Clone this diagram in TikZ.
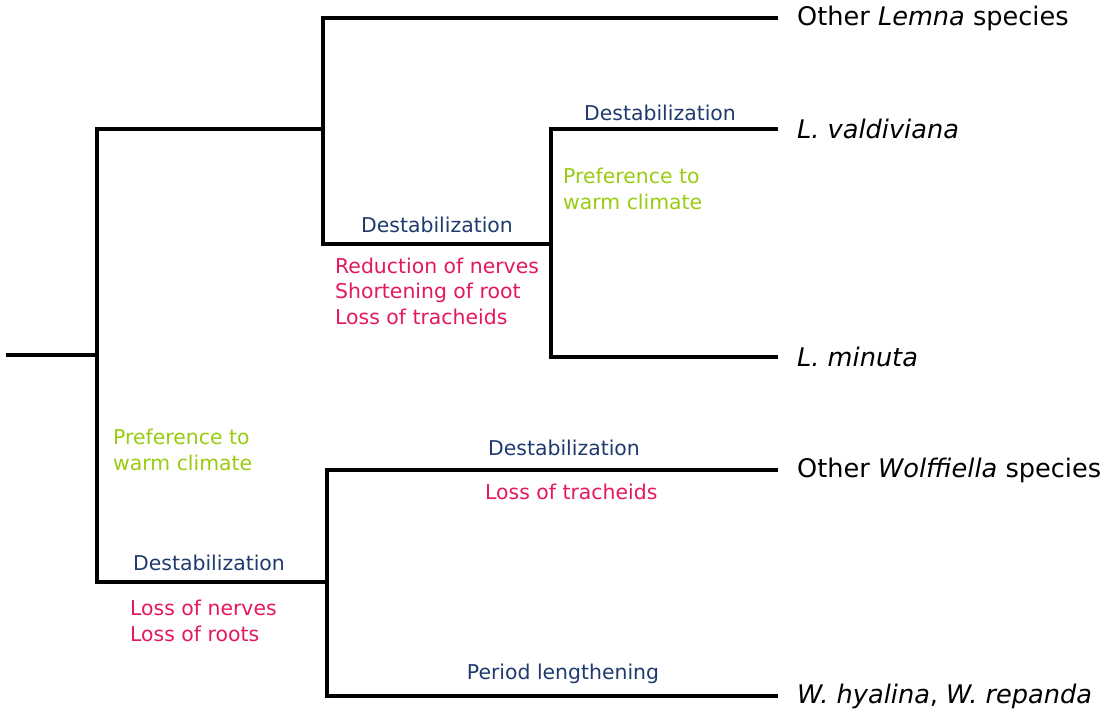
\documentclass[tikz,border=0pt]{standalone}
\usepackage{fontspec}
\setmainfont{DejaVu Sans}
\definecolor{traitblue}{HTML}{1F3A6E}
\definecolor{traitpink}{HTML}{E5175F}
\definecolor{traitgreen}{HTML}{99CC11}
\begin{document}
\begin{tikzpicture}
            [
                x=1pt, y=-1pt,
                branch/.style={line width=3.8pt, line cap=rect},
                taxon/.style={anchor=west, inner sep=0pt, font=\fontsize{25.6}{28}\selectfont},
                event/.style={inner sep=0pt, text=traitblue, font=\fontsize{20.4}{25.5}\selectfont},
                loss/.style={anchor=west, inner sep=0pt, align=left, text=traitpink, font=\fontsize{20.4}{25.5}\selectfont},
                climate/.style={anchor=west, inner sep=0pt, align=left, text=traitgreen, font=\fontsize{20.4}{25.5}\selectfont}
            ]
            \useasboundingbox (0,0) rectangle (1110,714);
            % internal nodes
            \coordinate (root) at (8,355);
            \coordinate (duck) at (97,355);
            \coordinate (lemna) at (323,129);
            \coordinate (minor) at (551,244);
            \coordinate (wolf) at (327,582);
            % leaves
            \node[taxon] (othlemna) at (797,18) {Other \textit{Lemna} species};
            \node[taxon] (valdiv) at (797,129) {\textit{L. valdiviana}};
            \node[taxon] (minuta) at (797,357) {\textit{L. minuta}};
            \node[taxon] (othwolf) at (797,470) {Other \textit{Wolffiella} species};
            \node[taxon] (hyalina) at (797,696) {\textit{W. hyalina}, \textit{W. repanda}};
            % branches
            \draw[branch] (root) -- (duck);
            \draw[branch] (duck) |- (lemna);
            \draw[branch] (duck) |- (wolf);
            \draw[branch] (lemna) |- ([xshift=-21pt]othlemna.west);
            \draw[branch] (lemna) |- (minor);
            \draw[branch] (minor) |- ([xshift=-21pt]valdiv.west);
            \draw[branch] (minor) |- ([xshift=-21pt]minuta.west);
            \draw[branch] (wolf) |- ([xshift=-21pt]othwolf.west);
            \draw[branch] (wolf) |- ([xshift=-21pt]hyalina.west);
            % traits, Lemna
            \node[event] (destvald) at (660,113) {Destabilization};
            \node[climate] (warmvald) at (563,189) {Preference to\\warm climate};
            \node[event] (destmin) at (437,225) {Destabilization};
            \node[loss] (lossmin) at (335,291) {Reduction of nerves\\Shortening of root\\Loss of tracheids};
            % traits, Wolffiella
            \node[climate] (warmwolf) at (113,450) {Preference to\\warm climate};
            \node[event] (destwolf) at (209,563) {Destabilization};
            \node[loss] (losswolf) at (130,621) {Loss of nerves\\Loss of roots};
            \node[event] (destoth) at (564,448) {Destabilization};
            \node[loss] (lossoth) at (485,492) {Loss of tracheids};
            \node[event] (period) at (563,674) {Period lengthening};
        \end{tikzpicture}
\end{document}
